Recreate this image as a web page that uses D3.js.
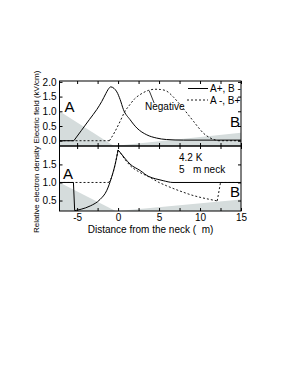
<!DOCTYPE html>
<meta charset="utf-8">
<head>
    <title>Electric field and electron density near the neck</title>
    <script type="text/javascript" src="https://d3js.org/d3.v7.min.js"></script>
    <style>
        body { margin: 0; background: #fff; }
        text { font-family: "Liberation Sans", Arial, sans-serif; fill: #000; }
    </style>
</head>
<body>
<script>
    // x range of both panels (um from the neck)
    var xDomain = [-7.15, 15];
    var xTicks = [-5, -2.5, 0, 2.5, 5, 7.5, 10, 12.5, 15];
    var xLabels = [-5, 0, 5, 10, 15];

    // top panel: electric field (kV/cm)
    var fieldDomain = [-0.18, 2.03];
    var fieldTicks = [0, 0.5, 1.0, 1.5, 2.0];
    // each series is a list of pieces, joined at sharp corners
    var fieldSolid = [
        [[-7.15, 0], [-5.4, 0]],
        [[-5.4, 0], [-4.5, 0.34], [-3.5, 0.72], [-2.6, 1.06], [-2.0, 1.33], [-1.5, 1.6], [-1.2, 1.75], [-0.9, 1.83],
         [-0.5, 1.78], [-0.15, 1.66], [0.25, 1.4], [0.65, 1.06], [1.45, 0.72], [2.3, 0.43], [3.5, 0.2],
         [4.7, 0.09], [5.9, 0.04], [8, 0.02], [15, 0.02]]
    ];
    var fieldDashed = [
        [[-7.15, 0], [-1.05, 0]],
        [[-1.05, 0], [-0.4, 0.3], [0.25, 0.66], [0.8, 0.98], [1.45, 1.23], [2.0, 1.42], [2.7, 1.57], [3.7, 1.71],
         [4.5, 1.75], [5.2, 1.74], [5.9, 1.69], [6.7, 1.5], [7.55, 1.23], [8.4, 0.94], [9.2, 0.66], [9.8, 0.45],
         [10.4, 0.26], [11.2, 0.1], [12.2, 0]],
        [[12.2, 0], [15, 0]]
    ];
    var fieldShadeA = [[-7.15, 1.0], [-0.5, -0.18], [-7.15, -0.18]];
    var fieldShadeB = [[-0.5, -0.18], [15, 0.27], [15, -0.18]];

    // bottom panel: relative electron density
    var densDomain = [0.21, 2.01];
    var densTicks = [0.5, 1.0, 1.5];
    var densSolid = [
        [[-7.15, 1.0], [-5.45, 1.0]],
        [[-5.45, 1.0], [-5.3, 0.22]],
        [[-5.3, 0.22], [-4.5, 0.26], [-3.4, 0.35], [-2.2, 0.53], [-1.4, 0.77], [-0.8, 1.14], [-0.35, 1.51], [0, 1.9]],
        [[0, 1.9], [0.4, 1.79], [0.9, 1.65], [1.46, 1.51], [2.7, 1.33], [3.7, 1.17], [4.6, 1.1], [5.5, 1.05],
         [6.7, 1.0], [15, 1.0]]
    ];
    var densDashed = [
        [[-7.15, 1.0], [-1.15, 1.0]],
        [[-1.15, 1.0], [-0.8, 1.14], [-0.35, 1.51], [0, 1.9]],
        [[0, 1.9], [0.4, 1.78], [0.9, 1.62], [1.46, 1.47], [2.5, 1.3], [3.9, 1.14], [5.0, 1.0], [5.9, 0.91],
         [7.0, 0.81], [7.96, 0.73], [9.0, 0.65], [10.0, 0.59], [11.0, 0.54], [12.1, 0.49]],
        [[12.1, 0.49], [12.5, 1.0]],
        [[12.5, 1.0], [15, 1.0]]
    ];
    var densShadeA = [[-7.15, 1.0], [-0.3, 0.21], [-7.15, 0.21]];
    var densShadeB = [[0, 0.21], [15, 0.53], [15, 0.21]];

    var legendNames = ["A+, B -", "A -, B+"];

    var width = 286, height = 371;
    var left = 59.5, right = 241;
    var shade = "#d5dcdc";

    var svg = d3.select("body").append("svg")
        .attr("width", width)
        .attr("height", height);
    svg.append("rect").attr("width", width).attr("height", height).attr("fill", "#fff");
    var defs = svg.append("defs");

    var x = d3.scaleLinear().domain(xDomain).range([left, right]);
    var yField = d3.scaleLinear().domain(fieldDomain).range([146, 81]);
    var yDens = d3.scaleLinear().domain(densDomain).range([211, 146]);

    function drawPanel(id, y, shades, solid, dashed, yTicks, showX) {
        var r = y.range();
        defs.append("clipPath").attr("id", id)
            .append("rect").attr("x", left).attr("y", r[1])
            .attr("width", right - left).attr("height", r[0] - r[1]);
        var g = svg.append("g");
        var plot = g.append("g").attr("clip-path", "url(#" + id + ")");
        var poly = d3.line().x(function(d){ return x(d[0]); }).y(function(d){ return y(d[1]); });
        shades.forEach(function(s){
            plot.append("path").attr("d", poly(s) + "Z").attr("fill", shade).attr("stroke", "none");
        });
        var line = d3.line()
            .x(function(d){ return x(d[0]); })
            .y(function(d){ return y(d[1]); })
            .curve(d3.curveMonotoneX);
        dashed.forEach(function(p){
            plot.append("path").attr("d", line(p)).attr("fill", "none").attr("stroke", "#000")
                .attr("stroke-width", 0.9).attr("stroke-dasharray", "2,2");
        });
        solid.forEach(function(p){
            plot.append("path").attr("d", line(p)).attr("fill", "none").attr("stroke", "#000")
                .attr("stroke-width", 1);
        });

        g.append("rect")
            .attr("x", left).attr("y", r[1])
            .attr("width", right - left).attr("height", r[0] - r[1])
            .attr("fill", "none").attr("stroke", "#000").attr("stroke-width", 1);

        var ax = g.append("g").attr("transform", "translate(" + left + ",0)")
            .call(d3.axisLeft(y).tickValues(yTicks).tickSize(-3).tickPadding(3)
                .tickFormat(d3.format(".1f")));
        var ax2 = g.append("g").attr("transform", "translate(" + right + ",0)")
            .call(d3.axisRight(y).tickValues(yTicks).tickSize(-3).tickFormat(""));
        var ax3 = g.append("g").attr("transform", "translate(0," + r[1] + ")")
            .call(d3.axisTop(x).tickValues(xTicks).tickSize(-3).tickFormat(""));
        var ax4 = g.append("g").attr("transform", "translate(0," + r[0] + ")")
            .call(d3.axisBottom(x).tickValues(xTicks).tickSize(-3).tickPadding(3)
                .tickFormat(function(d){ return (showX && xLabels.indexOf(d) >= 0) ? String(d) : ""; }));
        [ax, ax2, ax3, ax4].forEach(function(a){
            a.select(".domain").remove();
            a.selectAll("text").attr("font-size", 10)
                .attr("font-family", "Liberation Sans, Arial, sans-serif");
        });
        return g;
    }

    drawPanel("clipField", yField, [fieldShadeA, fieldShadeB], fieldSolid, fieldDashed, fieldTicks, false);
    drawPanel("clipDens", yDens, [densShadeA, densShadeB], densSolid, densDashed, densTicks, true);

    // big letters and notes
    function label(t, px, py, size) {
        return svg.append("text").attr("x", px).attr("y", py)
            .attr("font-size", size).style("white-space", "pre").text(t);
    }
    label("A", 64.5, 112, 15);
    label("B", 230, 127, 15);
    label("A", 63, 179, 15);
    label("B", 230, 197, 15);

    label("Negative", 145, 110, 10);
    svg.append("line")
        .attr("x1", x(3.8)).attr("y1", yField(1.7))
        .attr("x2", x(4.4)).attr("y2", yField(1.28))
        .attr("stroke", "#000").attr("stroke-width", 0.8);

    // legend
    var legend = svg.append("g");
    legend.append("line").attr("x1", 188).attr("x2", 208).attr("y1", 88.5).attr("y2", 88.5)
        .attr("stroke", "#000").attr("stroke-width", 1);
    legend.append("line").attr("x1", 187).attr("x2", 208).attr("y1", 100).attr("y2", 100)
        .attr("stroke", "#000").attr("stroke-width", 0.9).attr("stroke-dasharray", "2,2");
    label(legendNames[0], 210, 92, 10);
    label(legendNames[1], 210, 103.5, 10);

    label("4.2 K", 179, 161, 10);
    label("5   m neck", 179, 172.5, 10);

    // axis titles
    svg.append("text")
        .attr("transform", "translate(39,107) rotate(-90)")
        .attr("text-anchor", "middle").attr("font-size", 8)
        .text("Electric field (kV/cm)");
    svg.append("text")
        .attr("transform", "translate(39,189.5) rotate(-90)")
        .attr("text-anchor", "middle").attr("font-size", 8)
        .text("Relative electron density");
    svg.append("text")
        .attr("x", 150.5).attr("y", 232.5)
        .attr("text-anchor", "middle").attr("font-size", 10)
        .style("white-space", "pre")
        .text("Distance from the neck (  m)");
</script>
</body>
